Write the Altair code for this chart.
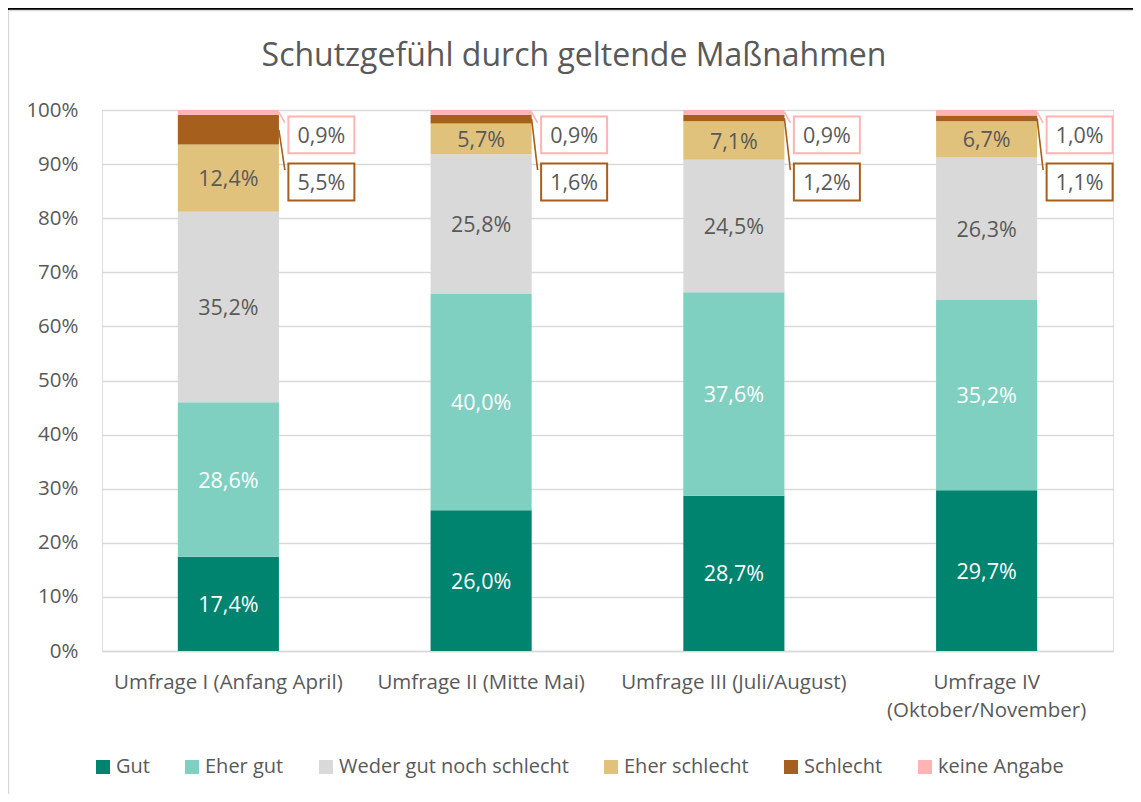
import altair as alt
import pandas as pd

categories = ["Umfrage I (Anfang April)", "Umfrage II (Mitte Mai)",
              "Umfrage III  (Juli/August)", "Umfrage IV (Oktober/November)"]
series = ["Gut", "Eher gut", "Weder gut noch schlecht", "Eher schlecht", "Schlecht", "keine Angabe"]
colors = ["#00846F", "#7FD0C1", "#D9D9D9", "#E0C27D", "#A65F1C", "#FFB3B3"]

gut = [17.4, 26.0, 28.7, 29.7]
eher_gut = [28.6, 40.0, 37.6, 35.2]
weder = [35.2, 25.8, 24.5, 26.3]
eher_schlecht = [12.4, 5.7, 7.1, 6.7]
schlecht = [5.5, 1.6, 1.2, 1.1]
keine = [0.9, 0.9, 0.9, 1.0]
values = [gut, eher_gut, weder, eher_schlecht, schlecht, keine]

title_text = "Schutzgefühl durch geltende Maßnahmen"

FONT = "Open Sans"
GREY = "#595959"


def fmt(v):
    return f"{v:.1f}".replace(".", ",") + "%"


rows = []
for ci, cat in enumerate(categories):
    base = 0.0
    for si, s in enumerate(series):
        v = values[si][ci]
        rows.append(dict(cat=cat, series=s, order=si, v=v, y0=base, y1=min(base + v, 100.0),
                         mid=base + v / 2, label=fmt(v), col=colors[si],
                         tc="white" if si < 2 else GREY))
        base += v
df = pd.DataFrame(rows)
inner = df[df.order < 4]

# callouts for the small segments
call = df[df.order >= 4].copy()
call["box_y"] = call.order.map({4: 86.7, 5: 95.4})
call["l_start"] = call.apply(lambda r: r.mid if r.order == 4 else 99.6, axis=1)
call["l_end"] = call.order.map({4: 88.9, 5: 97.6})

xenc = alt.X("cat:N", sort=categories, title=None,
             scale=alt.Scale(paddingInner=0.6, paddingOuter=0.3),
             axis=alt.Axis(labelAngle=0, ticks=False, domainColor="#D9D9D9", domainWidth=1.3,
                           labelColor=GREY, labelFontSize=20.5, labelFont=FONT, labelPadding=21,
                           labelLimit=400, labelLineHeight=28,
                           labelExpr="datum.value == 'Umfrage IV (Oktober/November)' ? ['Umfrage IV', '(Oktober/November)'] : datum.label"))
yscale = alt.Scale(domain=[0, 100], nice=False)

bars = alt.Chart(df).mark_bar().encode(
    x=xenc,
    y=alt.Y("y0:Q", scale=yscale, title=None,
            axis=alt.Axis(values=list(range(0, 101, 10)), labelExpr="datum.value + '%'",
                          ticks=False, domain=False, gridColor="#D9D9D9", gridWidth=1.3,
                          labelColor=GREY, labelFontSize=20.5, labelFont=FONT, labelPadding=24)),
    y2="y1:Q",
    color=alt.Color("series:N", sort=series, scale=alt.Scale(domain=series, range=colors),
                    legend=alt.Legend(title=None, orient="none", legendX=-9, legendY=647,
                                      direction="horizontal", symbolType="square", symbolSize=196,
                                      symbolStrokeWidth=0, labelFontSize=20, labelFont=FONT,
                                      labelColor=GREY, labelOffset=3, columnPadding=32,
                                      labelLimit=500)),
    order=alt.Order("order:Q"),
)

texts = alt.Chart(inner).mark_text(fontSize=21.5, font=FONT, dy=2).encode(
    x=alt.X("cat:N", sort=categories),
    y=alt.Y("mid:Q", scale=yscale),
    text="label:N",
    color=alt.Color("tc:N", scale=None),
)

lines = alt.Chart(call).mark_rule(xOffset=50.5, x2Offset=56.5, strokeWidth=1.6).encode(
    x=alt.X("cat:N", sort=categories),
    x2=alt.X2("cat:N"),
    y=alt.Y("l_start:Q", scale=yscale),
    y2="l_end:Q",
    color=alt.Color("col:N", scale=None),
)

boxes = alt.Chart(call).mark_point(
    shape="M-1,-0.56L1,-0.56L1,0.56L-1,0.56Z", size=66 * 66, filled=True, fill="white",
    strokeWidth=2, xOffset=93, opacity=1, fillOpacity=1, strokeOpacity=1,
).encode(
    x=alt.X("cat:N", sort=categories),
    y=alt.Y("box_y:Q", scale=yscale),
    stroke=alt.Stroke("col:N", scale=None),
)

box_text = alt.Chart(call).mark_text(fontSize=21.5, font=FONT, color=GREY, dx=93, dy=2).encode(
    x=alt.X("cat:N", sort=categories),
    y=alt.Y("box_y:Q", scale=yscale),
    text="label:N",
)

frame_df = pd.DataFrame({"a": [0]})
black_line = alt.Chart(frame_df).mark_rule(color="black", strokeWidth=2).encode(
    x=alt.value(-94), x2=alt.value(1031), y=alt.value(-101))
border_top = alt.Chart(frame_df).mark_rule(color="#D9D9D9", strokeWidth=1.5).encode(
    x=alt.value(-93), x2=alt.value(1031), y=alt.value(-99.5))
border_left = alt.Chart(frame_df).mark_rule(color="#D9D9D9", strokeWidth=1.5).encode(
    x=alt.value(-93.5), y=alt.value(-100), y2=alt.value(684))

title = alt.Chart(pd.DataFrame({"t": [title_text]})).mark_text(
    fontSize=32, font=FONT, color=GREY, baseline="middle", align="center").encode(
    x=alt.value(472), y=alt.value(-54), text="t:N")

chart = alt.layer(black_line, border_top, border_left, title, bars, texts, lines, boxes, box_text).properties(
    width=1011, height=541,
    autosize=alt.AutoSizeParams(type="none"),
    padding={"left": 94, "top": 102, "right": 20, "bottom": 143},
).configure_view(stroke=None).configure(background="white")

chart.save("out.html", embed_options={"renderer": "svg", "actions": False})
